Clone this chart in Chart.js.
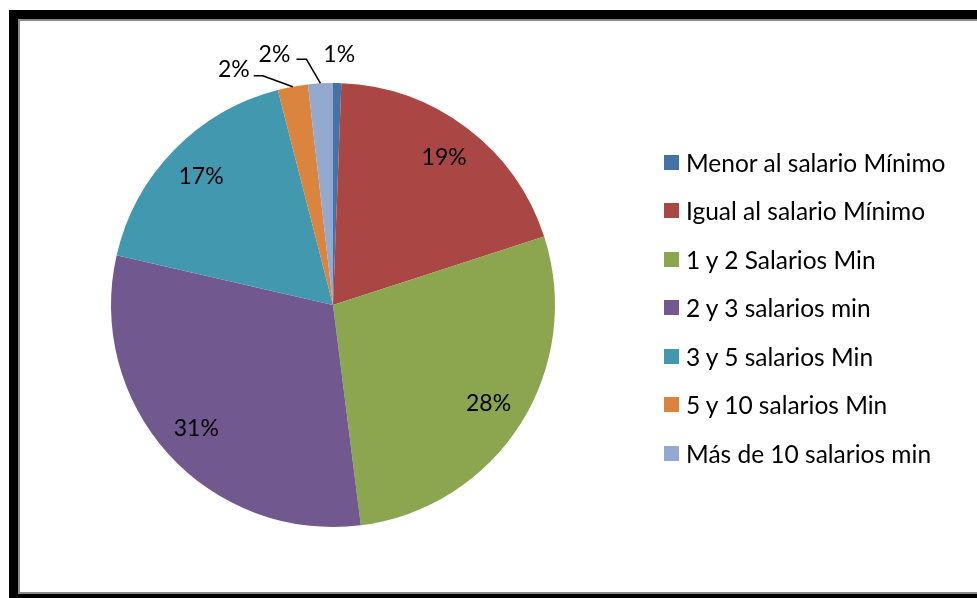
<!DOCTYPE html>
<html>
<head>
<meta charset="utf-8">
<script src="https://cdn.jsdelivr.net/npm/chart.js@4/dist/chart.umd.min.js"></script>
<style>
  html,body{margin:0;padding:0;background:#fff;width:977px;height:598px;overflow:hidden;}
  #frameOuter{position:absolute;left:9px;top:10px;width:1100px;border:9px solid #000;border-right:none;box-sizing:border-box;height:593px;}
  #frameInner{position:absolute;left:0;top:0;right:0;bottom:0;border:2px solid #8a8a8a;border-right:none;}
  #wrap{position:absolute;left:0;top:0;width:977px;height:598px;}
  #legend{position:absolute;left:664px;top:138px;margin:0;padding:0;list-style:none;font-family:Lato,"DejaVu Sans",sans-serif;font-size:24.5px;color:#000;}
  #legend li{height:48.5px;display:flex;align-items:center;white-space:nowrap;}
  #legend .box{width:15px;height:15px;margin-right:7px;flex:none;}
</style>
</head>
<body>
<div id="frameOuter"><div id="frameInner"></div></div>
<div id="wrap"><canvas id="c" width="977" height="598"></canvas></div>
<ul id="legend"></ul>
<script>
const categories = [
  "Menor al salario Mínimo",
  "Igual al salario Mínimo",
  "1 y 2 Salarios Min",
  "2 y 3 salarios min",
  "3 y 5 salarios Min",
  "5 y 10 salarios Min",
  "Más de 10 salarios min"
];
const shares = [0.6, 19.4, 28.0, 30.6, 17.4, 2.2, 1.8];
const colors = ["#4572A7", "#AA4643", "#8BA64F", "#71588F", "#4299AF", "#DB843D", "#93A9CF"];

const labelPlugin = {
  id: 'sliceLabels',
  afterDatasetsDraw(chart, args, opts) {
    const ctx = chart.ctx;
    const meta = chart.getDatasetMeta(0);
    const data = chart.data.datasets[0].data;
    const total = data.reduce((a, b) => a + b, 0);
    ctx.save();
    ctx.font = opts.font;
    ctx.fillStyle = '#000';
    ctx.strokeStyle = '#000';
    ctx.lineWidth = 1.5;
    ctx.textAlign = 'center';
    ctx.textBaseline = 'middle';
    meta.data.forEach((arc, i) => {
      const p = arc.getProps(['x', 'y', 'startAngle', 'endAngle', 'outerRadius'], true);
      const mid = (p.startAngle + p.endAngle) / 2;
      const txt = Math.round(data[i] / total * 100) + '%';
      const out = opts.outside[i];
      if (!out) {
        const r = p.outerRadius * opts.inRatio;
        ctx.fillText(txt, p.x + Math.cos(mid) * r, p.y + Math.sin(mid) * r);
      } else {
        const ax = p.x + Math.cos(mid) * p.outerRadius;
        const ay = p.y + Math.sin(mid) * p.outerRadius;
        if (out.elbow) {
          ctx.beginPath();
          ctx.moveTo(ax, ay);
          ctx.lineTo(ax + out.elbow[0], ay + out.elbow[1]);
          ctx.lineTo(ax + out.end[0], ay + out.end[1]);
          ctx.stroke();
        }
        ctx.fillText(txt, ax + out.label[0], ay + out.label[1]);
      }
    });
    ctx.restore();
  }
};

const chart = new Chart(document.getElementById('c'), {
  type: 'pie',
  data: {
    labels: categories,
    datasets: [{ data: shares, backgroundColor: colors, borderWidth: 0 }]
  },
  options: {
    responsive: false,
    animation: false,
    layout: { padding: { left: 111, right: 422, top: 83, bottom: 71 } },
    plugins: {
      legend: { display: false },
      tooltip: { enabled: false },
      sliceLabels: {
        font: '23px Lato, "DejaVu Sans", sans-serif',
        inRatio: 0.83,
        outside: {
          0: { label: [2, -28] },
          5: { label: [-59, -17], elbow: [-30, -11], end: [-39, -11] },
          6: { label: [-46, -29], elbow: [-14, -24], end: [-24, -24] }
        }
      }
    }
  },
  plugins: [labelPlugin]
});

const legendEl = document.getElementById('legend');
chart.data.labels.forEach((lab, i) => {
  const li = document.createElement('li');
  const box = document.createElement('span');
  box.className = 'box';
  box.style.background = chart.data.datasets[0].backgroundColor[i];
  const t = document.createElement('span');
  t.textContent = lab;
  li.appendChild(box);
  li.appendChild(t);
  legendEl.appendChild(li);
});
</script>
</body>
</html>
